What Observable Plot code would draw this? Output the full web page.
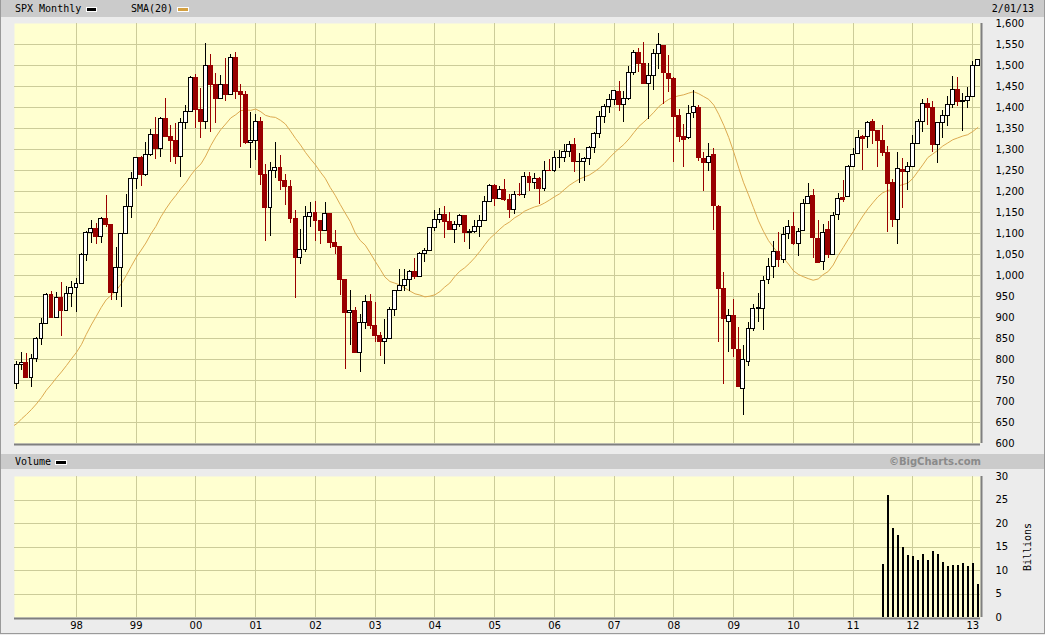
<!DOCTYPE html>
<html><head><meta charset="utf-8">
<script src="https://cdn.jsdelivr.net/npm/d3@7"></script>
<script src="https://cdn.jsdelivr.net/npm/@observablehq/plot@0.6"></script>
<style>
html,body{margin:0;padding:0;background:#ececec;}
#wrap{position:relative;width:1045px;height:635px;overflow:hidden;background:#ececec;font-family:"DejaVu Sans Mono",monospace;font-size:10px;color:#000;}
.bar{position:absolute;left:0;width:1045px;background:#cbcbcb;}
.lbl{position:absolute;line-height:10px;white-space:nowrap;}
.sw{position:absolute;border:1px solid #fff;}
#price,#volume{position:absolute;left:0;}
#price{top:13px;} #volume{top:466px;}
#frame{position:absolute;left:0;top:0;width:1043px;height:633px;border:1px solid #9a9a9a;border-top:none;pointer-events:none;}
</style></head>
<body><div id="wrap">
<div class="bar" style="top:0;height:17px"></div>
<div class="lbl" style="left:15px;top:4px">SPX Monthly</div>
<div class="sw" style="left:86px;top:7px;width:9px;height:3px;background:#000"></div>
<div class="lbl" style="left:131px;top:4px">SMA(20)</div>
<div class="sw" style="left:177px;top:7px;width:10px;height:3px;background:#d4a040"></div>
<div class="lbl" style="right:11px;top:4px">2/01/13</div>
<div class="bar" style="top:454px;height:15px"></div>
<div class="lbl" style="left:15px;top:457px">Volume</div>
<div class="sw" style="left:55px;top:460px;width:10px;height:3px;background:#000"></div>
<div class="lbl" style="right:64px;top:457px;font-family:'DejaVu Sans',sans-serif;font-weight:bold;color:#8a8a8a">©BigCharts.com</div>
<div class="lbl" style="left:1028px;top:547px;transform:translate(-50%,-50%) rotate(-90deg)">Billions</div>
<div id="price"></div>
<div id="volume"></div>
<div id="frame"></div>
</div>
<script>
// ---- Data: SPX monthly, Jan 1997 .. Feb 2013 ----
const firstMonth = "1997-01";
const opens = [
740.74,786.16,790.82,757.12,801.34,848.28,885.14,954.29,899.47,947.28,914.62,955.40,
970.43,980.28,1049.34,1101.75,1111.75,1090.82,1133.84,1120.67,957.28,1017.01,1098.67,1163.63,
1229.23,1279.64,1238.33,1286.37,1335.18,1301.84,1372.71,1328.72,1320.41,1282.71,1362.93,1388.91,
1469.25,1394.46,1366.42,1498.58,1452.43,1420.60,1454.60,1430.83,1517.68,1436.51,1429.40,1314.95,
1320.28,1366.01,1239.94,1160.33,1249.46,1255.82,1224.42,1211.23,1133.58,1040.94,1059.78,1139.45,
1148.08,1130.20,1106.73,1147.39,1076.92,1067.14,989.82,911.62,916.07,815.28,885.76,936.31,
879.82,855.70,841.15,848.18,916.92,963.59,974.50,990.31,1008.01,995.97,1050.71,1058.20,
1111.92,1131.13,1144.94,1126.21,1107.30,1120.68,1140.84,1101.72,1104.24,1114.58,1130.20,1173.82,
1211.92,1181.27,1203.60,1180.59,1156.85,1191.50,1191.33,1234.18,1220.33,1228.81,1207.01,1249.48,
1248.29,1280.08,1280.66,1294.83,1310.61,1270.09,1270.20,1276.66,1303.82,1335.85,1377.94,1400.63,
1418.03,1437.90,1406.80,1420.83,1482.37,1530.62,1504.66,1455.18,1473.96,1527.29,1545.79,1479.63,
1467.97,1378.60,1330.45,1326.41,1385.97,1399.62,1276.69,1267.23,1287.83,1164.17,968.67,888.61,
902.99,823.09,729.57,793.59,872.74,923.26,920.82,990.22,1019.52,1054.91,1036.18,1098.89,
1116.56,1073.89,1105.36,1171.23,1188.58,1087.30,1031.10,1107.53,1049.72,1143.49,1185.71,1186.60,
1257.62,1289.14,1328.64,1329.48,1365.21,1345.20,1320.64,1292.59,1219.12,1131.21,1251.00,1246.91,
1258.86,1312.45,1365.90,1408.47,1397.86,1309.87,1362.33,1379.32,1406.54,1440.90,1412.20,1416.18,
1426.19,1498.11];
const highs = [
794.67,817.68,814.90,812.93,851.87,898.70,957.73,961.63,960.46,983.12,973.05,986.25,
992.65,1051.66,1105.65,1130.52,1123.02,1138.49,1190.58,1121.75,1066.11,1100.56,1192.97,1244.93,
1280.00,1283.75,1316.55,1347.76,1375.98,1375.98,1420.33,1357.87,1361.41,1373.17,1404.63,1473.10,
1478.00,1444.55,1552.87,1527.19,1481.51,1477.26,1517.32,1525.21,1530.09,1454.82,1438.46,1389.06,
1383.37,1376.38,1263.47,1269.30,1315.93,1286.62,1239.78,1226.27,1155.40,1110.61,1163.38,1173.62,
1176.97,1130.20,1173.94,1147.84,1106.59,1070.17,989.82,965.00,924.02,907.44,951.57,954.28,
935.05,864.64,895.90,924.24,965.38,1015.33,1015.41,1011.01,1040.29,1053.79,1063.65,1112.56,
1155.38,1158.98,1163.23,1150.57,1127.74,1146.34,1140.84,1109.68,1131.54,1142.05,1188.46,1217.33,
1217.80,1212.44,1229.11,1191.88,1199.56,1219.59,1245.15,1245.86,1243.13,1233.34,1270.64,1275.80,
1294.90,1297.57,1310.88,1318.16,1326.70,1290.68,1280.42,1306.74,1340.28,1389.45,1407.89,1431.81,
1441.61,1461.57,1438.89,1498.02,1535.56,1540.56,1555.90,1503.89,1538.74,1576.09,1545.79,1523.57,
1471.77,1396.02,1359.68,1404.98,1440.24,1404.05,1292.17,1313.15,1303.04,1167.03,1007.51,918.85,
943.85,875.01,832.98,888.70,930.17,956.23,996.68,1039.47,1080.15,1101.36,1113.69,1130.38,
1150.45,1112.42,1180.16,1219.80,1205.13,1131.23,1120.95,1129.24,1148.90,1196.14,1227.08,1262.60,
1302.67,1344.07,1332.28,1366.11,1370.58,1345.20,1356.48,1307.38,1229.29,1292.66,1277.55,1269.37,
1333.47,1371.94,1419.15,1422.38,1415.32,1363.46,1391.74,1426.68,1474.51,1470.96,1434.27,1448.00,
1509.94,1514.41];
const lows = [
729.55,773.43,756.13,733.54,793.21,832.44,882.46,898.96,899.47,855.27,914.62,924.92,
912.83,980.28,1032.88,1076.70,1074.39,1077.01,1114.30,939.98,939.71,923.32,1098.67,1136.89,
1205.46,1211.89,1234.70,1282.80,1277.31,1281.41,1328.42,1268.68,1263.24,1233.70,1348.16,1387.38,
1350.14,1325.07,1346.62,1339.40,1361.09,1420.60,1415.42,1430.83,1419.44,1305.79,1311.26,1254.07,
1274.62,1215.44,1081.19,1091.99,1232.00,1203.03,1165.54,1124.87,944.75,1026.76,1054.31,1114.51,
1081.66,1074.36,1106.73,1063.46,1048.96,952.92,775.68,833.44,815.28,768.63,872.57,871.84,
840.34,806.29,788.90,847.85,902.83,963.59,962.10,960.84,990.36,995.97,1031.20,1058.20,
1105.08,1124.44,1087.16,1107.23,1076.32,1113.32,1078.78,1060.72,1099.18,1090.19,1127.60,1173.76,
1163.75,1180.95,1176.92,1136.15,1146.18,1188.30,1183.55,1201.07,1205.35,1168.20,1201.07,1246.59,
1245.74,1253.61,1268.42,1280.74,1245.34,1219.29,1224.54,1261.30,1290.93,1327.10,1360.98,1385.93,
1403.97,1389.42,1363.98,1416.37,1476.70,1484.18,1454.25,1370.60,1439.29,1489.56,1406.10,1435.65,
1270.05,1316.75,1256.98,1324.35,1373.07,1272.00,1200.44,1247.45,1106.42,839.80,741.02,815.69,
804.30,734.52,666.79,783.32,866.10,888.86,869.32,978.51,991.97,1020.18,1029.38,1085.89,
1071.59,1044.50,1105.36,1170.69,1040.78,1028.33,1010.91,1039.70,1049.72,1131.87,1173.00,1186.60,
1257.62,1289.14,1249.05,1302.99,1311.80,1258.07,1282.86,1101.54,1114.22,1074.77,1158.66,1202.37,
1258.86,1312.45,1340.03,1357.38,1291.98,1266.74,1325.41,1354.65,1396.56,1403.28,1343.35,1398.11,
1426.19,1498.11];
const closes = [
786.16,790.82,757.12,801.34,848.28,885.14,954.29,899.47,947.28,914.62,955.40,970.43,
980.28,1049.34,1101.75,1111.75,1090.82,1133.84,1120.67,957.28,1017.01,1098.67,1163.63,1229.23,
1279.64,1238.33,1286.37,1335.18,1301.84,1372.71,1328.72,1320.41,1282.71,1362.93,1388.91,1469.25,
1394.46,1366.42,1498.58,1452.43,1420.60,1454.60,1430.83,1517.68,1436.51,1429.40,1314.95,1320.28,
1366.01,1239.94,1160.33,1249.46,1255.82,1224.38,1211.23,1133.58,1040.94,1059.78,1139.45,1148.08,
1130.20,1106.73,1147.39,1076.92,1067.14,989.82,911.62,916.07,815.28,885.76,936.31,879.82,
855.70,841.15,848.18,916.92,963.59,974.50,990.31,1008.01,995.97,1050.71,1058.20,1111.92,
1131.13,1144.94,1126.21,1107.30,1120.68,1140.84,1101.72,1104.24,1114.58,1130.20,1173.82,1211.92,
1181.27,1203.60,1180.59,1156.85,1191.50,1191.33,1234.18,1220.33,1228.81,1207.01,1249.48,1248.29,
1280.08,1280.66,1294.83,1310.61,1270.09,1270.20,1276.66,1303.82,1335.85,1377.94,1400.63,1418.30,
1438.24,1406.82,1420.86,1482.37,1530.62,1503.35,1455.27,1473.99,1526.75,1549.38,1481.14,1468.36,
1378.55,1330.63,1322.70,1385.59,1400.38,1280.00,1267.38,1282.83,1166.36,968.75,896.24,903.25,
825.88,735.09,797.87,872.81,919.14,919.32,987.48,1020.62,1057.08,1036.19,1095.63,1115.10,
1073.87,1104.49,1169.43,1186.69,1089.41,1030.71,1101.60,1049.33,1141.20,1183.26,1180.55,1257.64,
1286.12,1327.22,1325.83,1363.61,1345.20,1320.64,1292.28,1218.89,1131.42,1253.30,1246.96,1257.60,
1312.41,1365.68,1408.47,1397.91,1310.33,1362.16,1379.32,1406.58,1440.67,1412.16,1416.18,1426.19,
1498.11,1513.17];
// closes Jun 1995 .. Dec 1996, needed for the 20-month SMA at the chart's start
const priorStart = "1995-06";
const priorCloses = [544.75,562.06,561.88,584.41,581.50,605.37,615.93,636.02,640.43,645.50,654.17,669.12,670.63,639.95,651.99,687.33,705.27,757.02,740.74];
// volume (billions), Jul 2011 .. Feb 2013
const volumeStart = "2011-07";
const volumes = [11.2,25.9,18.9,17.4,14.8,13.1,12.9,12.1,13.5,12.1,14.0,13.5,11.8,10.8,11.0,11.0,11.4,10.8,11.4,6.95];
// axes
const yearLabels = ["98","99","00","01","02","03","04","05","06","07","08","09","10","11","12","13"];
const priceTicks = [600,650,700,750,800,850,900,950,1000,1050,1100,1150,1200,1250,1300,1350,1400,1450,1500,1550,1600];
const volumeTicks = [0,5,10,15,20,25,30];

// ---- styling ----
const RED = "#990000", BG = "#ffffd0", GRID = "#cccc99", EDGE = "#7f7f7f", SMA = "#dcaa50";
const parse = d3.utcParse("%Y-%m");
const xDomain = [new Date(Date.UTC(1996,11,18)), new Date(Date.UTC(2013,1,17))];
const yearTicks = yearLabels.map((_, i) => new Date(Date.UTC(1998 + i, 0, 1)));

const start = parse(firstMonth);
const months = closes.map((_, i) => d3.utcMonth.offset(start, i));
const candles = months.map((date, i) => {
  const o = opens[i], c = closes[i];
  const prev = i ? closes[i - 1] : priorCloses[priorCloses.length - 1];
  const color = c >= prev ? "#000000" : RED;
  return {date, x1: d3.utcDay.offset(date, -12), x2: d3.utcDay.offset(date, 12),
          open: o, high: highs[i], low: lows[i], close: c, color, fill: c > o ? "#ffffff" : color};
});
const pStart = parse(priorStart);
const smaData = priorCloses.map((c, i) => ({date: d3.utcMonth.offset(pStart, i), close: c}))
  .concat(candles.map(d => ({date: d.date, close: d.close})));
const vStart = parse(volumeStart);
const volData = volumes.map((v, i) => ({date: d3.utcMonth.offset(vStart, i), vol: v}));

const common = {
  width: 1045, marginLeft: 14, marginRight: 65,
  style: {background: "transparent", fontFamily: "'DejaVu Sans', sans-serif", fontSize: "10px", overflow: "visible", color: "#000"},
  color: {type: "identity"}
};

const price = Plot.plot({
  ...common,
  height: 440, marginTop: 10, marginBottom: 10,
  x: {type: "utc", domain: xDomain, axis: null},
  y: {domain: [600, 1600], axis: "right", ticks: priceTicks, tickFormat: d3.format(","), tickSize: 0, tickPadding: 15, label: null},
  marks: [
    Plot.frame({fill: BG, stroke: "none"}),
    Plot.ruleY(priceTicks.slice(1, -1), {stroke: GRID, shapeRendering: "crispEdges"}),
    Plot.ruleX(yearTicks, {stroke: GRID, shapeRendering: "crispEdges"}),
    Plot.lineY(smaData, Plot.windowY({k: 20, anchor: "end", reduce: "mean"}, {x: "date", y: "close", stroke: SMA, strokeWidth: 1, clip: true})),
    Plot.ruleX(candles, {x: "date", y1: "low", y2: "high", stroke: "color", strokeWidth: 1, shapeRendering: "crispEdges"}),
    Plot.rect(candles, {x1: "x1", x2: "x2", y1: "open", y2: "close", fill: "fill", stroke: "color", strokeWidth: 1, shapeRendering: "crispEdges"}),
    Plot.ruleX([xDomain[1]], {stroke: EDGE, strokeWidth: 2, dx: 1}),
    Plot.ruleY([600], {stroke: EDGE, strokeWidth: 2, dy: 1})
  ]
});
document.getElementById("price").appendChild(price);

const volume = Plot.plot({
  ...common,
  height: 169, marginTop: 10, marginBottom: 18,
  x: {type: "utc", domain: xDomain, ticks: yearTicks, tickFormat: d => yearLabels[yearTicks.findIndex(t => +t === +d)], tickSize: 0, tickPadding: 4, label: null},
  y: {domain: [0, 30], axis: "right", ticks: volumeTicks, tickSize: 0, tickPadding: 15, label: null},
  marks: [
    Plot.frame({fill: BG, stroke: "none"}),
    Plot.ruleY(volumeTicks.slice(1, -1), {stroke: GRID, shapeRendering: "crispEdges"}),
    Plot.ruleX(yearTicks, {stroke: GRID, shapeRendering: "crispEdges"}),
    Plot.ruleX(volData, {x: "date", y1: 0, y2: "vol", stroke: "#000000", strokeWidth: 2, shapeRendering: "crispEdges"}),
    Plot.ruleX([xDomain[1]], {stroke: EDGE, strokeWidth: 2, dx: 1}),
    Plot.ruleY([0], {stroke: EDGE, strokeWidth: 2, dy: 1})
  ]
});
document.getElementById("volume").appendChild(volume);
</script>
</body></html>
